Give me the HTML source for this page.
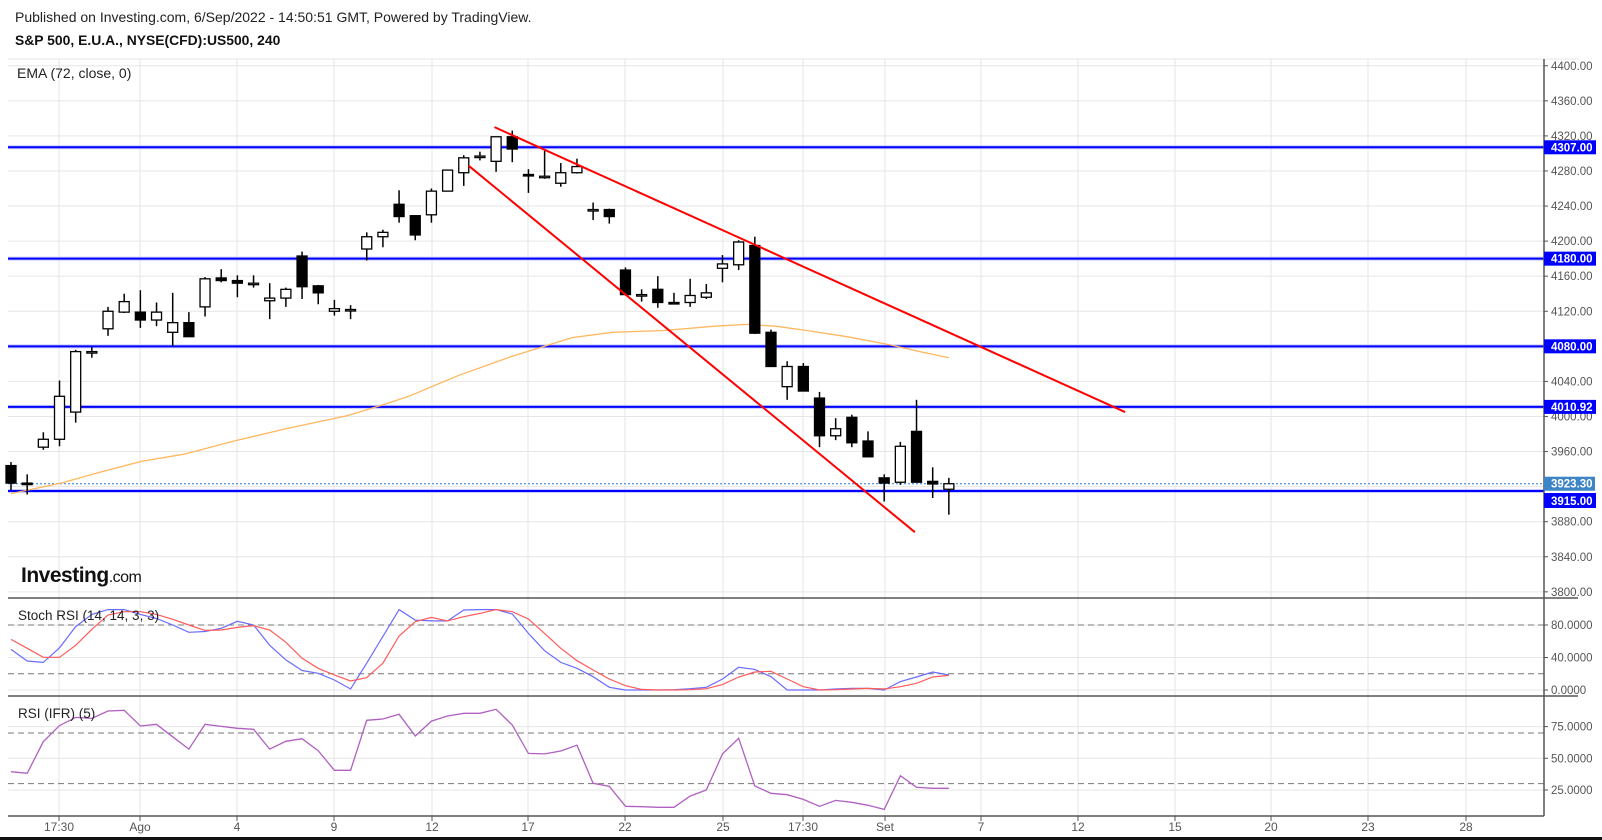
<!DOCTYPE html>
<html><head><meta charset="utf-8"><style>
body{margin:0;background:#fff;width:1602px;height:840px;overflow:hidden;font-family:"Liberation Sans",Arial,sans-serif}
svg{display:block}
</style></head><body>
<svg id="chart" width="1602" height="840" viewBox="0 0 1602 840" xmlns="http://www.w3.org/2000/svg" font-family="Liberation Sans, Arial, sans-serif">
<text x="15" y="22" font-size="14" fill="#222">Published on Investing.com, 6/Sep/2022 - 14:50:51 GMT, Powered by TradingView.</text>
<text x="15" y="45" font-size="13.9" font-weight="bold" fill="#111">S&amp;P 500, E.U.A., NYSE(CFD):US500, 240</text>
<g id="grid"></g><g id="levels"></g><g id="marks"></g><g id="axes"></g>
<text x="17" y="78" font-size="14" fill="#222">EMA (72, close, 0)</text>
<text x="21" y="582" font-size="21" font-weight="bold" fill="#111" letter-spacing="-0.5">Investing<tspan font-size="16" font-weight="normal">.com</tspan></text>
<text x="18" y="620" font-size="13.5" fill="#222">Stoch RSI (14, 14, 3, 3)</text>
<text x="18" y="718" font-size="13.5" fill="#222">RSI (IFR) (5)</text>
<rect x="0" y="837" width="1602" height="3" fill="#111"/>
</svg>
<script>
// ---- data ----
const opens  = [3944,3924,3965,3974,4005,4073,4100,4119,4119,4110,4096,4107,4125,4158,4155,4152,4132,4135,4183,4149,4120,4122,4191,4205,4242,4229,4230,4257,4278,4296,4291,4319,4276,4274,4266,4278,4236,4236,4167,4139,4145,4130,4130,4136,4169,4173,4195,4096,4034,4057,4021,3978,3999,3972,3930,3925,3983,3926,3917];
const highs  = [3948,3934,3982,4041,4076,4079,4125,4140,4144,4130,4141,4119,4159,4168,4161,4161,4152,4147,4188,4150,4133,4127,4210,4213,4258,4229,4260,4281,4298,4302,4319,4326,4282,4303,4289,4294,4244,4237,4170,4145,4160,4141,4157,4151,4184,4201,4205,4099,4063,4061,4028,3998,4002,3983,3934,3971,4019,3942,3930];
const lows   = [3916,3911,3962,3966,3993,4067,4092,4118,4101,4103,4080,4091,4114,4153,4136,4147,4111,4125,4134,4128,4115,4111,4178,4193,4221,4201,4221,4257,4263,4292,4279,4290,4255,4271,4262,4277,4224,4220,4139,4131,4124,4128,4125,4134,4153,4167,4094,4057,4019,4029,3965,3973,3965,3954,3903,3922,3925,3907,3888];
const closes = [3924,3923,3974,4023,4074,4074,4120,4131,4110,4119,4107,4091,4157,4155,4152,4152,4135,4145,4148,4141,4123,4122,4205,4210,4228,4207,4257,4281,4295,4297,4319,4305,4275,4274,4278,4285,4236,4228,4139,4139,4130,4129,4138,4141,4174,4199,4095,4057,4057,4029,3978,3986,3970,3954,3924,3966,3925,3923,3923.3];
const emaIdx = [0,3.1,5.6,8.1,10.7,13.8,17,20.8,23.3,24.6,27.7,30.9,34.7,37.2,40.4,43.5,45.5,47.3,49.2,51.7,54.3,56.2,58];
const emaVal = [3912,3924,3937,3949,3957,3972,3986,4001,4015,4023,4047,4068,4090,4096,4098,4103,4105,4103,4098,4091,4082,4074,4067];
const levelPrices = [4307,4180,4080,4010.92,3915];
const levelLabels = ["4307.00","4180.00","4080.00","4010.92","3915.00"];
const lastPrice = 3923.3;
const trendLower = [[28.3,4286],[55.9,3868]];
const trendUpper = [[29.9,4330],[68.9,4005]];
const priceTicks = [4400,4360,4320,4280,4240,4200,4160,4120,4080,4040,4000,3960,3920,3880,3840,3800];
const stochK = [50,35.7,34,52,78,93,99,99,93,88,80,71,72,76,84.5,80,55,37,24,20.5,12.3,1.2,33,66,99,86,85,85,98.5,99,99,93.5,69.7,48.4,34,26.7,16.4,3.3,0,0,0,0.4,1.6,3.3,13.5,27.9,25.4,16.4,0,0,0,1.2,2,2,0,10.3,16,22.2,18.5];
const stochD = [62.3,51.3,40.2,40.2,55,74.7,92.3,96.4,96.4,93,87,80,73.4,73.8,77.1,79.2,73.8,58.7,39,26.7,18.5,11.1,15.2,33,66.5,84.1,89.4,85,90.2,94.3,99,96.4,87.4,69.7,51.3,36.1,24.6,13.5,5.3,0.8,0,0,0.4,1.6,6.6,16,22.2,23,13.5,4.1,0,0.4,1.2,2,1.2,4.1,8.2,16,18];
const rsi = [39.4,38.2,63.1,75.8,82.3,81.5,87.3,87.9,75.5,76.8,67,57.3,76.8,75.2,73.7,72.9,57.3,63.4,65.5,56,40.5,40.5,80,81,84.7,67.6,79.4,83.4,85.5,85.5,88.7,76.3,53.9,53.5,55.8,60.3,30.3,27.9,12.1,11.8,11.3,11.3,20.2,25,53.5,65.8,28.1,22.4,21.3,17.6,12.1,16.8,15.3,12.9,9.7,36.3,27.1,26.3,26.3];
const stochTicks = [80,40,0];
const stochTickLabels = ["80.0000","40.0000","0.0000"];
const rsiTicks = [75,50,25];
const rsiTickLabels = ["75.0000","50.0000","25.0000"];
const dateLabels = ["17:30","Ago","4","9","12","17","22","25","17:30","Set","7","12","15","20","23","28"];
const dateGridX = [59,140,237,334,432,528,625,723,803,885,981,1078,1175,1271,1368,1466];

// ---- scales ----
const L=8, R=1544;
const xI = i => 11 + i*16.17;
const yP = p => 491 - (p-3915)*0.8768;
const yS = v => 690 - v*0.8125;
const yR = v => 758.3 - (v-50)*1.267;
const NS='http://www.w3.org/2000/svg';
function mk(parent,tag,attrs){const e=document.createElementNS(NS,tag);for(const k in attrs)e.setAttribute(k,attrs[k]);document.getElementById(parent).appendChild(e);return e;}
function pathFrom(xs,ys){return xs.map((x,i)=>(i?'L':'M')+x.toFixed(1)+' '+ys[i].toFixed(1)).join(' ');}

// grid
dateLabels.forEach((lab,i)=>{
  const gx = dateGridX[i];
  const g=mk('grid','line',{x1:gx,x2:gx,y1:59,y2:816,stroke:'#e6e6e6','stroke-width':1});
  
  
  const t=mk('axes','text',{x:gx,y:831,'font-size':12,fill:'#555','text-anchor':'middle'});
  t.textContent=lab;
  
  
  mk('axes','line',{x1:gx,x2:gx,y1:816,y2:821,stroke:'#555'});
});
mk('grid','line',{x1:L,x2:1578,y1:59,y2:59,stroke:'#e6e6e6'});
priceTicks.forEach(p=>{
  const y=yP(p);
  const g=mk('grid','line',{x1:L,x2:R,y1:y,y2:y,stroke:'#e6e6e6'});
  
  
  mk('axes','line',{x1:R,x2:R+4,y1:y,y2:y,stroke:'#555'});
  const t=mk('axes','text',{x:1551,y:y+4,'font-size':11.5,fill:'#555'});
  t.textContent=p.toFixed(2);
  
  
});
stochTicks.forEach((v,i)=>{
  const y=yS(v);
  mk('grid','line',{x1:L,x2:R,y1:y,y2:y,stroke:'#e6e6e6'});
  mk('axes','line',{x1:R,x2:R+4,y1:y,y2:y,stroke:'#555'});
  const t=mk('axes','text',{x:1551,y:y+4,'font-size':11.5,fill:'#555'});
  t.textContent=stochTickLabels[i];
  
  
});
rsiTicks.forEach((v,i)=>{
  const y=yR(v);
  mk('grid','line',{x1:L,x2:R,y1:y,y2:y,stroke:'#e6e6e6'});
  mk('axes','line',{x1:R,x2:R+4,y1:y,y2:y,stroke:'#555'});
  const t=mk('axes','text',{x:1551,y:y+4,'font-size':11.5,fill:'#555'});
  t.textContent=rsiTickLabels[i];
  
  
});
[yS(80),yS(20),yR(70),yR(30)].forEach(y=>{
  const d=mk('grid','line',{x1:L,x2:R,y1:y,y2:y,stroke:'#777','stroke-dasharray':'6 4','stroke-width':1});
  
  
});
// pane separators & axis
mk('axes','line',{x1:L,x2:1578,y1:598,y2:598,stroke:'#555','stroke-width':1.5});
mk('axes','line',{x1:L,x2:1578,y1:696,y2:696,stroke:'#555','stroke-width':1.5});
mk('axes','line',{x1:L,x2:R,y1:816,y2:816,stroke:'#555','stroke-width':1.5});
mk('axes','line',{x1:R,x2:R,y1:59,y2:816,stroke:'#555','stroke-width':1.5});

// levels
levelPrices.forEach((p,i)=>{
  const y=yP(p);
  mk('levels','line',{x1:L,x2:R,y1:y,y2:y,stroke:'#99f','stroke-width':4,opacity:0.5});
  const l=mk('levels','line',{x1:L,x2:R,y1:y,y2:y,stroke:'#0000ff','stroke-width':2});
  
  
});
const ly=yP(lastPrice);
mk('levels','line',{x1:L,x2:R,y1:ly,y2:ly,stroke:'#2a7fd4','stroke-width':1,'stroke-dasharray':'2 2'});

// EMA
const ema=mk('marks','path',{d:pathFrom(emaIdx.map(xI),emaVal.map(yP)),fill:'none',stroke:'#ffb75e','stroke-width':1.3});



// candles
opens.forEach((o,i)=>{
  const x=xI(i), c=closes[i];
  mk('marks','line',{x1:x,x2:x,y1:yP(highs[i]),y2:yP(lows[i]),stroke:'#000','stroke-width':1.5});
  const top=yP(Math.max(o,c)), bot=yP(Math.min(o,c));
  const up=c>=o;
  const b=mk('marks','rect',{x:x-5,y:top,width:10,height:Math.max(bot-top,1.5),fill:up?'#fff':'#000',stroke:'#000','stroke-width':1.3});
  
  
});

// trend lines
[trendLower,trendUpper].forEach(t=>{
  const l=mk('marks','line',{x1:xI(t[0][0]),y1:yP(t[0][1]),x2:xI(t[1][0]),y2:yP(t[1][1]),stroke:'#ff0000','stroke-width':2});
  
  
});

// indicators
const k=mk('marks','path',{d:pathFrom(stochK.map((v,i)=>xI(i)),stochK.map(yS)),fill:'none',stroke:'#6b6bff','stroke-width':1.2});


const dl=mk('marks','path',{d:pathFrom(stochD.map((v,i)=>xI(i)),stochD.map(yS)),fill:'none',stroke:'#ff5a5a','stroke-width':1.2});


const rl=mk('marks','path',{d:pathFrom(rsi.map((v,i)=>xI(i)),rsi.map(yR)),fill:'none',stroke:'#b060c0','stroke-width':1.3});



// price labels on axis
levelPrices.forEach((p,i)=>{
  if(p===3915) return;
  const y=yP(p);
  const r=mk('axes','rect',{x:R,y:y-7,width:52,height:14,fill:'#0000ff'});
  
  
  const t=mk('axes','text',{x:1551,y:y+4,'font-size':11.5,fill:'#fff','font-weight':'bold'});
  t.textContent=levelLabels[i];
});
{
  const r=mk('axes','rect',{x:R,y:ly-7,width:51,height:14,fill:'#3d85c6'});
  
  
  const t=mk('axes','text',{x:1551,y:ly+4,'font-size':11.5,fill:'#fff','font-weight':'bold'});
  t.textContent=lastPrice.toFixed(2);
  const r2=mk('axes','rect',{x:R,y:493,width:52,height:15,fill:'#0000ff'});
  
  
  const t2=mk('axes','text',{x:1551,y:505,'font-size':11.5,fill:'#fff','font-weight':'bold'});
  t2.textContent=levelLabels[4];
}
</script>
</body></html>
